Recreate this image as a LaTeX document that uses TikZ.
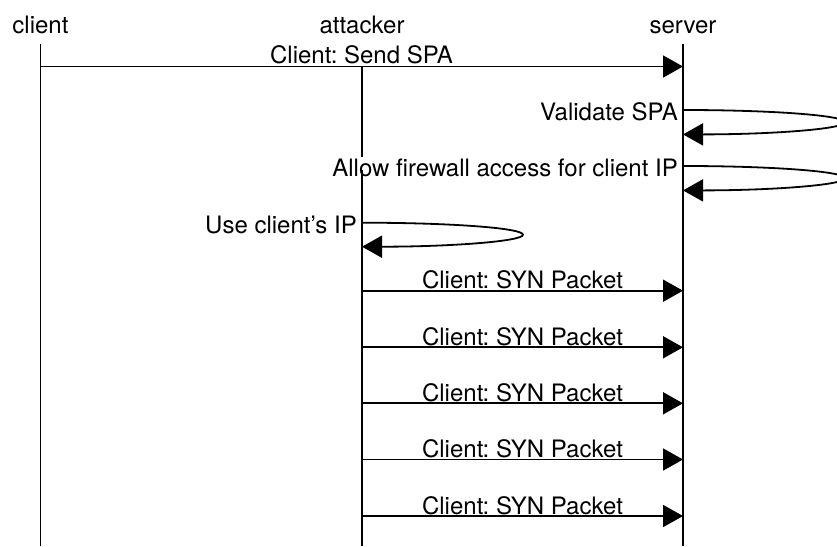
\documentclass[tikz,border=0pt]{standalone}
\usepackage{fontspec}
\setmainfont{TeX Gyre Heros}
\usetikzlibrary{arrows.meta}

\tikzset{
  lbl/.style={inner sep=0pt, font=\fontsize{24}{28}\selectfont\frenchspacing},
  lifeline/.style={line width=1.8pt},
  msg/.style={line width=1.8pt, -{Triangle[length=20pt,width=22pt]}},
}

\begin{document}
\begin{tikzpicture}[x=1pt,y=-1pt]
  \useasboundingbox (0,0) rectangle (837,546);

  % participant heads
  \node[lbl, anchor=base] (client)   at (40.5,33) {client};
  \node[lbl, anchor=base] (attacker) at (362,33)  {attacker};
  \node[lbl, anchor=base] (server)   at (683,33)  {server};

  % lifeline ends
  \coordinate (ct) at (40.5,43.5);  \coordinate (cb) at (40.5,546);
  \coordinate (at) at (362,43.5);   \coordinate (ab) at (362,546);
  \coordinate (st) at (683,43.5);   \coordinate (sb) at (683,546);
  \coordinate (ag1) at (362,157);   \coordinate (ag2) at (362,170);

  % lifelines
  \draw[lifeline] (ct) -- (cb);
  \draw[lifeline] (st) -- (sb);
  \draw[lifeline] (at) -- (ag1) (ag2) -- (ab);

  % Client sends the SPA packet
  \coordinate (m1a) at (40.5,66.5);
  \coordinate (m1b) at (683,66.5);
  \node[lbl, anchor=base, fill=white, inner xsep=1pt, inner ysep=2.5pt] (m1l) at (361.5,63.5) {Client: Send SPA};
  \draw[msg] (m1a) -- (m1b);

  % server self messages
  \coordinate (v1) at (683,110);
  \node[lbl, anchor=base east] (v1l) at (678,120.5) {Validate SPA};
  \draw[msg] (v1) arc[start angle=-90, end angle=90, x radius=162, y radius=12.2];

  \coordinate (v2) at (683,166);
  \node[lbl, anchor=base east] (v2l) at (678,176.5) {Allow firewall access for client IP};
  \draw[msg] (v2) arc[start angle=-90, end angle=90, x radius=162, y radius=12.2];

  % attacker self message
  \coordinate (v3) at (362,222.7);
  \node[lbl, anchor=base east] (v3l) at (357,233.3) {Use client’s IP};
  \draw[msg] (v3) arc[start angle=-90, end angle=90, x radius=161, y radius=12];

  % spoofed SYN packets
  \foreach \i/\y in {1/290.7, 2/347.3, 3/403.3, 4/459.5, 5/516} {
    \coordinate (sa\i) at (362,\y);
    \coordinate (sv\i) at (683,\y);
    \node[lbl, anchor=base] (syn\i) at (522.5,\y-2) {Client: SYN Packet};
    \draw[msg] (sa\i) -- (sv\i);
  }
\end{tikzpicture}
\end{document}
